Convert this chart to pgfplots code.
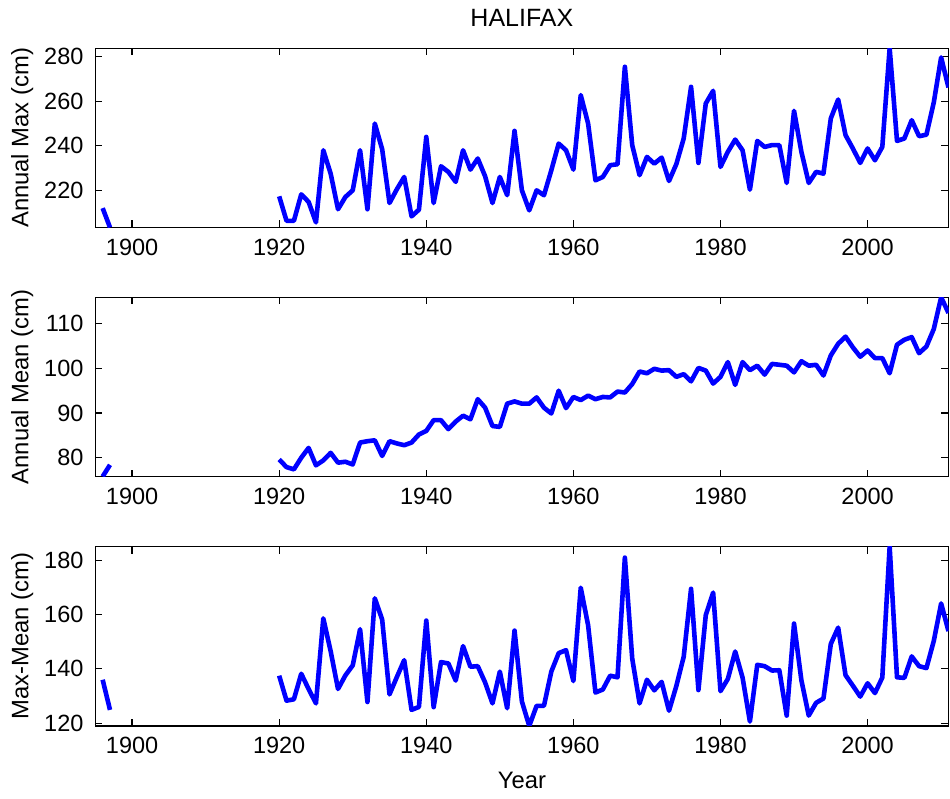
\documentclass[border=0pt]{standalone}
\usepackage{fontspec}
\setmainfont{Liberation Sans}
\usepackage{pgfplots}
\usepackage{pgfplotstable}
\pgfplotsset{compat=1.18}

\pgfplotstableread{
year max mean diff
1896 212.0 75.8 136.0
1897 203.3 78.4 124.9
1898 nan nan nan
1920 217.3 79.6 137.5
1921 206.3 77.9 128.3
1922 206.3 77.4 128.8
1923 218.2 80.0 138.2
1924 214.8 82.2 132.6
1925 205.6 78.3 127.3
1926 238.0 79.4 158.6
1927 227.5 81.1 146.5
1928 211.5 78.9 132.6
1929 217.0 79.1 137.6
1930 220.0 78.5 141.3
1931 238.0 83.4 154.6
1932 211.5 83.7 127.8
1933 250.0 83.9 166.0
1934 238.5 80.4 158.2
1935 214.3 83.7 130.6
1936 220.5 83.2 137.0
1937 226.0 82.8 143.2
1938 208.3 83.4 124.9
1939 211.3 85.2 126.0
1940 244.0 86.0 157.8
1941 214.3 88.4 125.9
1942 230.8 88.4 142.5
1943 228.3 86.4 142.0
1944 223.8 88.1 135.7
1945 238.0 89.4 148.4
1946 229.3 88.6 140.8
1947 234.3 93.1 141.0
1948 226.3 91.2 135.0
1949 214.3 87.1 127.3
1950 226.0 86.9 139.0
1951 217.8 92.1 125.5
1952 246.7 92.6 154.1
1953 220.0 92.1 128.0
1954 211.0 92.1 119.0
1955 220.0 93.5 126.4
1956 217.8 91.2 126.4
1957 229.0 89.9 139.0
1958 241.0 95.0 145.8
1959 238.0 91.1 146.9
1960 229.3 93.6 135.5
1961 262.8 92.9 169.9
1962 250.0 93.9 156.1
1963 224.5 93.1 131.3
1964 226.0 93.6 132.4
1965 231.3 93.5 137.5
1966 231.7 94.8 136.9
1967 275.5 94.6 181.0
1968 240.3 96.5 143.8
1969 226.8 99.3 127.3
1970 235.0 98.9 136.0
1971 232.0 99.9 132.1
1972 234.7 99.5 135.2
1973 224.2 99.6 124.6
1974 231.8 98.1 133.7
1975 243.3 98.7 144.5
1976 266.5 97.1 169.5
1977 232.3 100.1 132.2
1978 259.0 99.5 159.8
1979 264.7 96.6 168.1
1980 230.5 98.1 131.8
1981 237.3 101.4 136.3
1982 242.8 96.3 146.4
1983 238.0 101.4 136.8
1984 220.3 99.6 120.6
1985 242.2 100.6 141.5
1986 239.5 98.6 141.0
1987 240.3 101.0 139.4
1988 240.3 100.8 139.5
1989 223.3 100.6 122.8
1990 255.7 99.1 156.7
1991 237.3 101.6 135.8
1992 223.3 100.6 122.8
1993 228.3 100.8 127.5
1994 227.5 98.4 129.1
1995 252.3 102.9 149.2
1996 260.8 105.5 155.2
1997 244.8 107.1 137.7
1998 238.8 104.7 133.8
1999 232.3 102.6 129.8
2000 238.8 104.0 134.7
2001 233.5 102.3 131.1
2002 239.5 102.3 136.8
2003 283.8 98.9 185.0
2004 242.2 105.3 136.9
2005 243.3 106.4 136.7
2006 251.5 107.0 144.6
2007 244.3 103.4 141.0
2008 245.0 104.9 140.3
2009 259.5 108.8 150.3
2010 279.7 115.9 164.1
2011 266.2 112.4 153.9
}\halifax

\pgfplotsset{
  halistyle/.style={
    scale only axis,
    width=426.6pt, height=89.6pt,
    xmin=1895, xmax=2011,
    xtick={1900,1920,1940,1960,1980,2000},
    axis line style={line width=0.6pt},
    major tick style={line width=0.6pt, black},
    major tick length=3.5pt,
    tick align=inside,
    xtick pos=both, ytick pos=both,
    /pgf/number format/assume math mode=true,
    /pgf/number format/set thousands separator={},
    tick label style={font=\fontsize{11.75}{14}\selectfont},
    xticklabel style={yshift=-2.3pt},
    yticklabel style={xshift=-2.4pt},
    every axis y label/.style={at={(axis description cs:-0.0858,0.5)}, rotate=90, anchor=center, font=\fontsize{11.9}{14}\selectfont},
    unbounded coords=jump,
    clip=true,
  },
  haliline/.style={color={rgb,1:red,0;green,0;blue,1}, line width=2.3pt, line join=round, mark=none},
}

\begin{document}
\begin{tikzpicture}
\useasboundingbox (-47.65pt,24.15pt) rectangle (427.35pt,-375.35pt);
\begin{axis}[halistyle, at={(0,0)}, anchor=north west,
  ymin=203.3, ymax=283.8, ytick={220,240,260,280},
  ylabel={Annual Max (cm)},
  title={HALIFAX},
  every axis title/.style={at={(axis description cs:0.5,1.172)}, anchor=center, font=\fontsize{12.5}{15}\selectfont},
]
\addplot[haliline] table[x=year, y=max] {\halifax};
\end{axis}
\begin{axis}[halistyle, at={(0,-124.5pt)}, anchor=north west,
  ymin=75.8, ymax=115.9, ytick={80,90,100,110},
  ylabel={Annual Mean (cm)},
]
\addplot[haliline] table[x=year, y=mean] {\halifax};
\end{axis}
\begin{axis}[halistyle, at={(0,-249.2pt)}, anchor=north west,
  ymin=119.0, ymax=185.0, ytick={120,140,160,180},
  ylabel={Max-Mean (cm)},
  xlabel={Year},
  every axis x label/.style={at={(axis description cs:0.5,-0.307)}, anchor=center, font=\fontsize{11.9}{14}\selectfont},
]
\addplot[haliline] table[x=year, y=diff] {\halifax};
\end{axis}
\end{tikzpicture}
\end{document}
